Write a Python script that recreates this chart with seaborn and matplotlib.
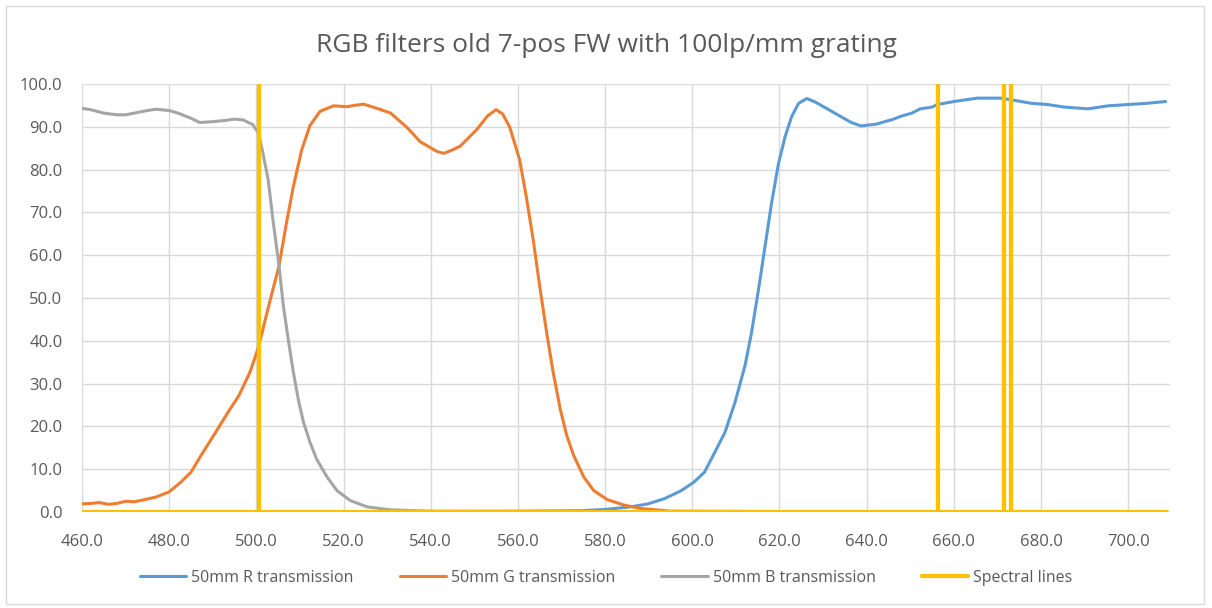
import numpy as np
import pandas as pd
import matplotlib
matplotlib.use("Agg")
import matplotlib.pyplot as plt
import seaborn as sns
from matplotlib.patches import Rectangle

# ---------------- data ----------------
title = "RGB filters old 7-pos FW with 100lp/mm grating"
series_names = ["50mm R transmission", "50mm G transmission",
                "50mm B transmission", "Spectral lines"]

r_wl = [460, 540, 560, 574.4, 580, 585.9, 589.8, 593.6, 597.5, 600.4, 602.8,
        605.2, 607.5, 609.8, 612.1, 613.6, 615.2, 616.7, 618.2, 619.8, 621.3,
        622.8, 624.4, 626.3, 628.2, 631.3, 634.4, 636.5, 638.7, 642.1, 645.9,
        648, 650.4, 652.3, 655, 656.2, 660, 665.4, 670.8, 673.8, 677.7, 681.5,
        685.4, 690.8, 695.4, 700, 704.4, 708.6]
r_val = [0.1, 0.1, 0.2, 0.3, 0.6, 1.2, 1.9, 3.1, 5.0, 7.0, 9.3,
         14.0, 18.6, 25.6, 34.2, 41.9, 52.0, 62.1, 72.2, 81.5, 87.7,
         92.4, 95.5, 96.6, 95.8, 94.0, 92.2, 91.0, 90.2, 90.6, 91.7,
         92.5, 93.2, 94.2, 94.6, 95.2, 95.9, 96.7, 96.7, 96.2, 95.5, 95.2,
         94.6, 94.2, 94.9, 95.2, 95.5, 95.9]

g_wl = [460, 462, 464, 466, 468, 470, 472, 474, 477, 480, 482.7, 485, 487.3,
        490.4, 493.5, 496, 498.5, 500.5, 502.3, 503.8, 505.2, 506.9, 508.5,
        510.4, 512.3, 514.6, 517.7, 520.8, 522.5, 524.6, 527.7, 530.8, 534.6,
        537.6, 541.5, 543, 545, 546.8, 550.6, 553, 555, 556.5, 558.1, 560.4,
        561.9, 563.5, 565, 566.6, 568.1, 569.7, 571.2, 572.8, 575.1, 577.4,
        580.5, 584.4, 588.3, 595, 620, 708.6]
g_val = [1.9, 2.0, 2.2, 1.8, 2.0, 2.5, 2.4, 2.8, 3.5, 4.7, 7.0, 9.3, 13.2,
         18.2, 23.3, 27.2, 32.6, 38.5, 46.0, 52.0, 57.5, 67.5, 76.1,
         84.6, 90.3, 93.6, 94.9, 94.7, 95.0, 95.3, 94.3, 93.2, 89.8,
         86.5, 84.2, 83.8, 84.6, 85.5, 89.4, 92.5, 94.0, 93.0, 90.0, 82.3,
         73.8, 63.7, 52.8, 41.9, 32.6, 24.1, 17.9, 13.2, 8.2, 5.0,
         2.9, 1.6, 0.8, 0.2, 0.1, 0.1]

b_wl = [460, 462, 465, 468, 470, 472, 475, 477, 480, 482, 485, 487, 490, 493,
        495, 497, 499.2, 500.5, 501.5, 502.7, 503.8, 505.2, 506.2, 507.3,
        508.5, 509.6, 510.8, 512.3, 513.8, 516.2, 518.5, 521.5, 525.4, 530.8,
        540, 560, 600, 650, 708.6]
b_val = [94.3, 94.0, 93.2, 92.8, 92.8, 93.2, 93.8, 94.1, 93.8, 93.2, 92.0,
         91.0, 91.2, 91.5, 91.8, 91.6, 90.5, 88.5, 83.9, 77.7, 68.3, 57.5,
         48.1, 40.4, 32.6, 26.4, 21.0, 16.3, 12.4, 8.2, 5.0, 2.7, 1.2, 0.5,
         0.2, 0.1, 0.1, 0.1, 0.1]

spectral_lines = [500.6, 656.3, 671.6, 673.1]
spectral_peak = 100.0
spectral_range = [460, 709]

x_ticks = [460, 480, 500, 520, 540, 560, 580, 600, 620, 640, 660, 680, 700]
y_ticks = [0, 10, 20, 30, 40, 50, 60, 70, 80, 90, 100]

colors = ["#5B9BD5", "#ED7D31", "#A5A5A5", "#FFC000"]

# spectral series: zero baseline with spikes at each line
s_wl = [spectral_range[0]]
s_val = [0.0]
for w in spectral_lines:
    s_wl += [w, w, w]
    s_val += [0.0, spectral_peak, 0.0]
s_wl.append(spectral_range[1])
s_val.append(0.0)

# ---------------- plotting ----------------
sns.set_theme(style="white")
plt.rcParams["font.family"] = ["Open Sans", "DejaVu Sans"]

fig = plt.figure(figsize=(12.12, 6.08), dpi=100)
ax = fig.add_axes([82 / 1212, 1 - 512 / 608, (1170 - 82) / 1212, (512 - 84) / 608])

tick_col = "#595959"
grid_col = "#D9D9D9"

for name, wl, val, col, lw in [
    (series_names[0], r_wl, r_val, colors[0], 2.2),
    (series_names[1], g_wl, g_val, colors[1], 2.2),
    (series_names[2], b_wl, b_val, colors[2], 2.2),
    (series_names[3], s_wl, s_val, colors[3], 3.0),
]:
    df = pd.DataFrame({"wl": wl, "val": val})
    sns.lineplot(data=df, x="wl", y="val", ax=ax, color=col, linewidth=lw,
                 label=name, sort=False, estimator=None)

ax.set_xlim(460, 709.6)
ax.set_ylim(0, 100)
ax.set_xticks(x_ticks)
ax.set_yticks(y_ticks)
ax.set_xticklabels([f"{v:.1f}" for v in x_ticks])
ax.set_yticklabels([f"{v:.1f}" for v in y_ticks])
ax.set_xlabel("")
ax.set_ylabel("")
ax.grid(True, color=grid_col, linewidth=1.0)
ax.set_axisbelow(True)
for sp in ax.spines.values():
    sp.set_visible(False)
ax.tick_params(axis="both", length=0, labelsize=12, colors=tick_col)
ax.tick_params(axis="y", pad=14)
ax.tick_params(axis="x", pad=16)

ax.legend_.remove()
handles, labels = ax.get_legend_handles_labels()
leg = fig.legend(handles, labels, loc="center", bbox_to_anchor=(0.5, 1 - 578 / 608),
                 ncol=4, frameon=False, fontsize=11.5, handlelength=2.9,
                 handletextpad=0.3, columnspacing=2.9)
for t in leg.get_texts():
    t.set_color(tick_col)

fig.text(0.5, 1 - 45 / 608, title, ha="center", va="center",
         fontsize=19, color=tick_col)

fig.patches.append(Rectangle((6 / 1212, 4 / 608), 1198 / 1212, 598 / 608,
                             transform=fig.transFigure, fill=False,
                             edgecolor="#D9D9D9", linewidth=1.0))

fig.savefig("out.png", dpi=100, facecolor="white")
